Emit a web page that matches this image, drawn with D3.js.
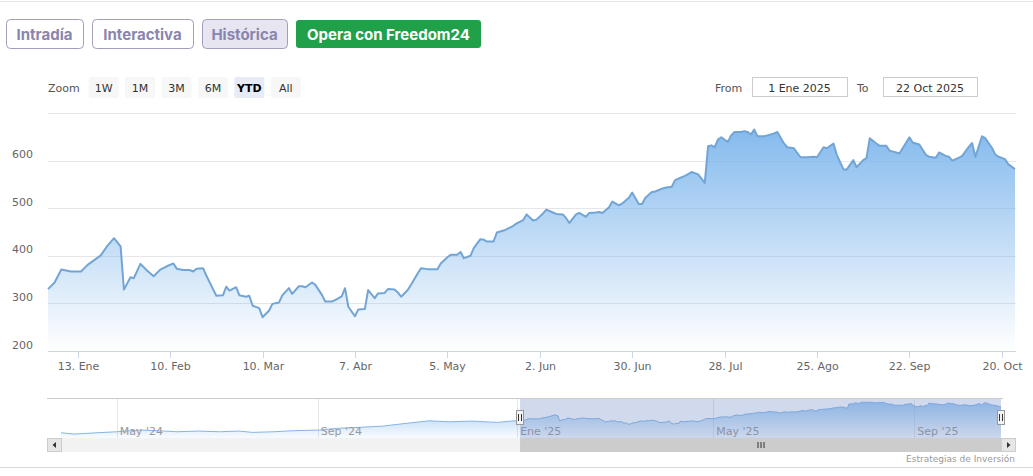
<!DOCTYPE html>
<html>
<head>
<meta charset="utf-8">
<script src="https://cdn.jsdelivr.net/npm/d3@7"></script>
<style>
    body { margin: 0; background: #fff; }
    svg { display: block; font-family: "DejaVu Sans", Verdana, sans-serif; }
</style>
</head>
<body>
<svg id="viz" width="1033" height="476"></svg>
<script>
// page tabs / range selector texts
const tabs = ["Intradía", "Interactiva", "Histórica"]
const activeTab = "Histórica"
const ctaLabel = "Opera con Freedom24"
const zoomButtons = ["1W", "1M", "3M", "6M", "YTD", "All"]
const activeZoom = "YTD"
const fromText = "1 Ene 2025"
const toText = "22 Oct 2025"
const monthsEs = ["Ene", "Feb", "Mar", "Abr", "May", "Jun", "Jul", "Ago", "Sep", "Oct", "Nov", "Dic"]
const credit = "Estrategias de Inversión"

// YTD series
const dates = [
    "2025-01-04", "2025-01-06", "2025-01-08", "2025-01-11", "2025-01-14", "2025-01-16", "2025-01-18", "2025-01-20", "2025-01-22", "2025-01-24",
    "2025-01-26", "2025-01-27", "2025-01-29", "2025-01-30", "2025-02-01", "2025-02-03", "2025-02-05", "2025-02-07", "2025-02-09", "2025-02-11",
    "2025-02-12", "2025-02-14", "2025-02-16", "2025-02-17", "2025-02-18", "2025-02-20", "2025-02-21", "2025-02-23", "2025-02-24", "2025-02-26",
    "2025-02-27", "2025-02-28", "2025-03-02", "2025-03-03", "2025-03-05", "2025-03-06", "2025-03-07", "2025-03-09", "2025-03-10", "2025-03-12",
    "2025-03-13", "2025-03-15", "2025-03-16", "2025-03-18", "2025-03-19", "2025-03-21", "2025-03-22", "2025-03-23", "2025-03-25", "2025-03-26",
    "2025-03-28", "2025-03-29", "2025-03-31", "2025-04-01", "2025-04-03", "2025-04-04", "2025-04-05", "2025-04-07", "2025-04-08", "2025-04-10",
    "2025-04-11", "2025-04-13", "2025-04-14", "2025-04-16", "2025-04-17", "2025-04-19", "2025-04-20", "2025-04-21", "2025-04-23", "2025-04-24",
    "2025-04-26", "2025-04-27", "2025-04-29", "2025-04-30", "2025-05-02", "2025-05-03", "2025-05-05", "2025-05-06", "2025-05-08", "2025-05-09",
    "2025-05-10", "2025-05-12", "2025-05-13", "2025-05-15", "2025-05-16", "2025-05-17", "2025-05-19", "2025-05-20", "2025-05-22", "2025-05-23",
    "2025-05-25", "2025-05-26", "2025-05-28", "2025-05-29", "2025-05-31", "2025-06-01", "2025-06-03", "2025-06-04", "2025-06-06", "2025-06-07",
    "2025-06-09", "2025-06-10", "2025-06-11", "2025-06-13", "2025-06-14", "2025-06-16", "2025-06-17", "2025-06-19", "2025-06-20", "2025-06-21",
    "2025-06-23", "2025-06-24", "2025-06-26", "2025-06-27", "2025-06-29", "2025-06-30", "2025-07-02", "2025-07-03", "2025-07-04", "2025-07-06",
    "2025-07-07", "2025-07-09", "2025-07-10", "2025-07-12", "2025-07-13", "2025-07-15", "2025-07-16", "2025-07-18", "2025-07-20", "2025-07-21",
    "2025-07-22", "2025-07-23", "2025-07-24", "2025-07-25", "2025-07-26", "2025-07-27", "2025-07-29", "2025-07-30", "2025-07-31", "2025-08-02",
    "2025-08-03", "2025-08-04", "2025-08-05", "2025-08-06", "2025-08-07", "2025-08-09", "2025-08-10", "2025-08-12", "2025-08-13", "2025-08-15",
    "2025-08-16", "2025-08-18", "2025-08-20", "2025-08-22", "2025-08-24", "2025-08-25", "2025-08-27", "2025-08-28", "2025-08-30", "2025-08-31",
    "2025-09-02", "2025-09-03", "2025-09-05", "2025-09-06", "2025-09-08", "2025-09-09", "2025-09-10", "2025-09-12", "2025-09-13", "2025-09-15",
    "2025-09-16", "2025-09-18", "2025-09-19", "2025-09-22", "2025-09-23", "2025-09-25", "2025-09-27", "2025-09-28", "2025-09-30", "2025-10-01",
    "2025-10-03", "2025-10-04", "2025-10-05", "2025-10-07", "2025-10-08", "2025-10-10", "2025-10-11", "2025-10-12", "2025-10-14", "2025-10-15",
    "2025-10-17", "2025-10-18", "2025-10-19", "2025-10-21", "2025-10-22", "2025-10-24"
]
const closes = [
    330, 344, 371, 367, 367, 381, 391, 401, 421, 437,
    420, 329, 355, 353, 383, 369, 357, 371, 378, 384,
    373, 370, 370, 367, 373, 374, 358, 330, 316, 317,
    335, 327, 334, 317, 314, 316, 295, 290, 271, 285,
    299, 302, 317, 332, 320, 336, 336, 334, 344, 339,
    318, 304, 304, 307, 315, 332, 293, 273, 287, 288,
    328, 311, 321, 322, 330, 329, 323, 314, 328, 339,
    363, 374, 372, 372, 372, 384, 397, 402, 402, 408,
    395, 400, 416, 435, 434, 430, 430, 449, 453, 456,
    463, 468, 475, 487, 474, 476, 489, 497, 491, 488,
    487, 479, 469, 487, 490, 482, 490, 491, 492, 490,
    502, 514, 506, 510, 522, 533, 509, 509, 522, 534,
    535, 541, 543, 545, 559, 565, 568, 576, 571, 562,
    553, 630, 632, 628, 644, 649, 639, 653, 660, 660,
    662, 660, 655, 665, 651, 651, 653, 657, 660, 636,
    628, 626, 607, 607, 608, 607, 628, 626, 636, 612,
    582, 581, 601, 586, 601, 605, 647, 636, 631, 631,
    621, 617, 615, 649, 638, 634, 612, 608, 606, 617,
    610, 608, 600, 606, 610, 629, 637, 608, 651, 647,
    627, 613, 608, 603, 592, 582
]

// older history, only visible in the navigator
const histDates = [
    "2024-03-28", "2024-04-05", "2024-04-19", "2024-05-01", "2024-05-15", "2024-05-27", "2024-06-07", "2024-06-20",
    "2024-07-03", "2024-07-15", "2024-07-23", "2024-08-05", "2024-08-16", "2024-09-02", "2024-09-13", "2024-09-26",
    "2024-10-11", "2024-10-25", "2024-11-08", "2024-11-20", "2024-12-04", "2024-12-20", "2024-12-30"
]
const histCloses = [
    122, 99, 122, 140, 170, 157, 140, 152,
    140, 152, 129, 140, 157, 170, 200, 217,
    240, 288, 333, 316, 328, 305, 333
]

const yTickValues = [200, 300, 400, 500, 600, 700]

const parseDate = d3.timeParse("%Y-%m-%d")
let series = dates.map((d, i) => ({date: parseDate(d), value: closes[i]}))
let navSeries = histDates.map((d, i) => ({date: parseDate(d), value: histCloses[i]})).concat(series)

let plot = {left: 48, right: 1015, top: 113, bottom: 351}
let nav = {left: 48, right: 1001, top: 398, bottom: 438}
let viz = d3.select("#viz")

// frame lines
viz.append("line").attr("x1", 0).attr("x2", 1033).attr("y1", 1.5).attr("y2", 1.5).style("stroke", "#e3e3e3")
viz.append("line").attr("x1", 0).attr("x2", 1033).attr("y1", 467.5).attr("y2", 467.5).style("stroke", "#dadada")

// ---------- top tabs ----------
let tabBoxes = [{x: 6, w: 77}, {x: 92, w: 101}, {x: 202, w: 85}]
let gTabs = viz.append("g").attr("id", "tabs")
    .selectAll("g").data(tabs).enter().append("g")

gTabs.append("rect")
    .attr("x", (t, i) => tabBoxes[i].x + 0.5)
    .attr("y", 19.5)
    .attr("width", (t, i) => tabBoxes[i].w)
    .attr("height", 29)
    .attr("rx", 4)
    .style("fill", t => t == activeTab ? "#e6e5f0" : "#fff")
    .style("stroke", "#a29ebc")

gTabs.append("text")
    .text(t => t)
    .attr("x", (t, i) => tabBoxes[i].x + tabBoxes[i].w / 2)
    .attr("y", 40)
    .attr("text-anchor", "middle")
    .style("font-family", "Inter, 'Noto Sans', sans-serif")
    .style("font-weight", 700)
    .style("font-size", "15px")
    .style("fill", "#8a85ae")

viz.append("rect")
    .attr("x", 296).attr("y", 20).attr("width", 185).attr("height", 28).attr("rx", 3)
    .style("fill", "#21a04a")
viz.append("text")
    .text(ctaLabel)
    .attr("x", 388.5).attr("y", 40)
    .attr("text-anchor", "middle")
    .style("font-family", "Inter, 'Noto Sans', sans-serif")
    .style("font-weight", 700)
    .style("font-size", "15px")
    .style("fill", "#fff")

// ---------- range selector ----------
viz.append("text").text("Zoom")
    .attr("x", 48).attr("y", 91.5)
    .style("font-size", "11px").style("fill", "#555")

let gZoom = viz.append("g").attr("id", "zoom")
    .selectAll("g").data(zoomButtons).enter().append("g")
    .attr("transform", (b, i) => `translate(${103.6 + i * 36.45},0)`)

gZoom.append("rect")
    .attr("x", -15).attr("y", 77).attr("width", 30).attr("height", 21).attr("rx", 2)
    .style("fill", b => b == activeZoom ? "#e6ebf5" : "#f7f7f7")

gZoom.append("text")
    .text(b => b)
    .attr("y", 91.5)
    .attr("text-anchor", "middle")
    .style("font-size", "11px")
    .style("font-weight", b => b == activeZoom ? "bold" : "normal")
    .style("fill", b => b == activeZoom ? "#000" : "#333")

function inputBox(label, labelX, boxX, boxW, value) {
    viz.append("text").text(label)
        .attr("x", labelX).attr("y", 91.5)
        .style("font-size", "11px").style("fill", "#555")
    viz.append("rect")
        .attr("x", boxX + 0.5).attr("y", 77.5).attr("width", boxW).attr("height", 19)
        .style("fill", "#fff").style("stroke", "#cccccc")
    viz.append("text").text(value)
        .attr("x", boxX + boxW / 2).attr("y", 91.5)
        .attr("text-anchor", "middle")
        .style("font-size", "11px").style("fill", "#333")
}
inputBox("From", 715, 752, 95, fromText)
inputBox("To", 857, 883, 94, toText)

// ---------- main chart ----------
let x = d3.scaleTime()
    .domain(d3.extent(series, d => d.date))
    .range([plot.left, plot.right])
let y = d3.scaleLinear()
    .domain([200, 700])
    .range([plot.bottom, plot.top])

let defs = viz.append("defs")
let grad = defs.append("linearGradient")
    .attr("id", "areaFill")
    .attr("gradientUnits", "userSpaceOnUse")
    .attr("x1", 0).attr("x2", 0).attr("y1", plot.top).attr("y2", plot.bottom)
grad.append("stop").attr("offset", 0).attr("stop-color", "#7cb5ec").attr("stop-opacity", 1)
grad.append("stop").attr("offset", 1).attr("stop-color", "#7cb5ec").attr("stop-opacity", 0)

viz.append("g").attr("id", "grid")
    .selectAll("line").data(yTickValues).enter().append("line")
    .attr("x1", plot.left).attr("x2", plot.right + 1)
    .attr("y1", v => Math.round(y(v)) + 0.5).attr("y2", v => Math.round(y(v)) + 0.5)
    .style("stroke", "#e6e6e6")

viz.append("g").attr("id", "yLabels")
    .selectAll("text").data(yTickValues.slice(0, -1)).enter().append("text")
    .text(v => v)
    .attr("x", 33).attr("y", v => y(v) - 2.5)
    .attr("text-anchor", "end")
    .style("font-size", "11px").style("fill", "#666")

viz.append("path")
    .datum(series)
    .attr("d", d3.area().x(d => x(d.date)).y0(y(200)).y1(d => y(d.value)))
    .style("fill", "url(#areaFill)")

viz.append("path")
    .datum(series)
    .attr("d", d3.line().x(d => x(d.date)).y(d => y(d.value)))
    .style("fill", "none")
    .style("stroke", "#72a5d6")
    .style("stroke-width", 2)
    .style("stroke-linejoin", "round")

// x axis, weekly ticks every 4 weeks (Mondays)
let xTicks = d3.timeMonday.range(new Date(2025, 0, 13), x.domain()[1], 4)
viz.append("line")
    .attr("x1", plot.left).attr("x2", plot.right + 1)
    .attr("y1", plot.bottom + 0.5).attr("y2", plot.bottom + 0.5)
    .style("stroke", "#ccd6eb")

let gX = viz.append("g").attr("id", "xAxis")
    .selectAll("g").data(xTicks).enter().append("g")
    .attr("transform", d => `translate(${Math.round(x(d)) + 0.5},0)`)
gX.append("line")
    .attr("y1", plot.bottom).attr("y2", plot.bottom + 7)
    .style("stroke", "#ccd6eb")
gX.append("text")
    .text(d => `${d.getDate()}. ${monthsEs[d.getMonth()]}`)
    .attr("y", 370)
    .attr("text-anchor", "middle")
    .style("font-size", "11px").style("fill", "#666")

// ---------- navigator ----------
let xNav = d3.scaleTime()
    .domain([new Date(2024, 2, 20), new Date(2025, 9, 24)])
    .range([nav.left, nav.right])
let yNav = d3.scaleLinear()
    .domain([30, 735])
    .range([nav.bottom, nav.top])

let navGrad = defs.append("linearGradient")
    .attr("id", "navFill")
    .attr("gradientUnits", "userSpaceOnUse")
    .attr("x1", 0).attr("x2", 0).attr("y1", nav.top).attr("y2", nav.bottom)
navGrad.append("stop").attr("offset", 0).attr("stop-color", "#7cb5ec").attr("stop-opacity", 0.8)
navGrad.append("stop").attr("offset", 1).attr("stop-color", "#7cb5ec").attr("stop-opacity", 0.05)

let navTicks = xNav.ticks(d3.timeMonth.every(4))
viz.append("g").attr("id", "navGrid")
    .selectAll("line").data(navTicks).enter().append("line")
    .attr("x1", d => Math.round(xNav(d)) + 0.5).attr("x2", d => Math.round(xNav(d)) + 0.5)
    .attr("y1", nav.top).attr("y2", nav.bottom)
    .style("stroke", "#e6e6e6")

viz.append("path")
    .datum(navSeries)
    .attr("d", d3.area().x(d => xNav(d.date)).y0(nav.bottom).y1(d => yNav(d.value)))
    .style("fill", "url(#navFill)")
viz.append("path")
    .datum(navSeries)
    .attr("d", d3.line().x(d => xNav(d.date)).y(d => yNav(d.value)))
    .style("fill", "none")
    .style("stroke", "#86b6e6")
    .style("stroke-width", 1)

viz.append("g").attr("id", "navLabels")
    .selectAll("text").data(navTicks).enter().append("text")
    .text(d => `${monthsEs[d.getMonth()]} '${String(d.getFullYear()).slice(2)}`)
    .attr("x", d => xNav(d) + 3)
    .attr("y", 434.5)
    .style("font-size", "11px").style("fill", "#999")

let selFrom = xNav(series[0].date) - 2
let selTo = nav.right
viz.append("rect")
    .attr("x", selFrom).attr("y", nav.top).attr("width", selTo - selFrom).attr("height", nav.bottom - nav.top)
    .style("fill", "rgba(102,133,194,0.3)")

viz.append("line")
    .attr("x1", nav.left - 1).attr("x2", nav.right + 2)
    .attr("y1", nav.top + 0.5).attr("y2", nav.top + 0.5)
    .style("stroke", "#cccccc")

function handle(hx) {
    let g = viz.append("g").attr("transform", `translate(${Math.round(hx)},0)`)
    g.append("rect").attr("x", -3.5).attr("y", 410.5).attr("width", 7).attr("height", 14)
        .style("fill", "#f2f2f2").style("stroke", "#999")
    g.append("line").attr("x1", -1.5).attr("x2", -1.5).attr("y1", 414).attr("y2", 421).style("stroke", "#333")
    g.append("line").attr("x1", 1.5).attr("x2", 1.5).attr("y1", 414).attr("y2", 421).style("stroke", "#333")
}
handle(selFrom)
handle(selTo)

// scrollbar
let sb = {top: 438, h: 14, left: 47, right: 1015}
viz.append("rect")
    .attr("x", sb.left).attr("y", sb.top).attr("width", sb.right - sb.left).attr("height", sb.h)
    .style("fill", "#f2f2f2")
viz.append("rect")
    .attr("x", selFrom).attr("y", sb.top).attr("width", selTo - selFrom).attr("height", sb.h)
    .style("fill", "#cccccc")
let grip = (selFrom + selTo) / 2
;[-3, 0, 3].forEach(dx => {
    viz.append("line").attr("x1", grip + dx + 0.5).attr("x2", grip + dx + 0.5)
        .attr("y1", sb.top + 4).attr("y2", sb.top + 10).style("stroke", "#333")
})
function arrowButton(bx, dir) {
    viz.append("rect").attr("x", bx + 0.5).attr("y", sb.top + 0.5).attr("width", 14).attr("height", sb.h - 1)
        .style("fill", "#e6e6e6").style("stroke", "#cccccc")
    let cx = bx + 7.5, cy = sb.top + 7
    viz.append("path")
        .attr("d", dir < 0 ? `M${cx + 1.5},${cy - 3}L${cx - 2},${cy}L${cx + 1.5},${cy + 3}Z`
                           : `M${cx - 1.5},${cy - 3}L${cx + 2},${cy}L${cx - 1.5},${cy + 3}Z`)
        .style("fill", "#333")
}
arrowButton(sb.left, -1)
arrowButton(sb.right - 14, 1)

viz.append("text").text(credit)
    .attr("x", 1015).attr("y", 462)
    .attr("text-anchor", "end")
    .style("font-size", "9px").style("fill", "#999")
</script>
</body>
</html>
